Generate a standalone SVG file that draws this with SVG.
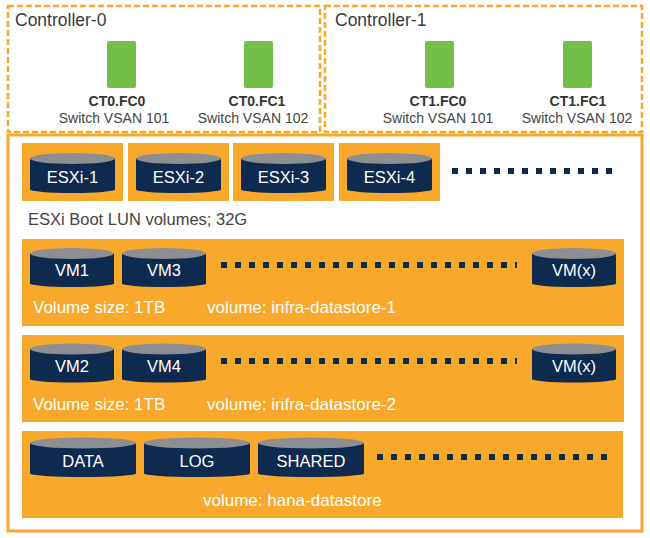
<svg xmlns="http://www.w3.org/2000/svg" width="650" height="538" viewBox="0 0 650 538">
<style>
text{font-family:"Liberation Sans",Arial,sans-serif}
.ctrl{fill:none;stroke:#F7A82B;stroke-width:2.5;stroke-dasharray:6 3}
.title{font-size:17.5px;fill:#3a3a3a}
.port{fill:#74BE4A}
.pname{font-size:14px;font-weight:bold;fill:#333;text-anchor:middle}
.psub{font-size:14px;fill:#444;text-anchor:middle}
.band{fill:#F8A82B}
.body{fill:#0E2A4E}
.top{fill:#8C8E91}
.ct{font-size:16.5px;fill:#fff;text-anchor:middle}
.wl{font-size:17px;fill:#fff}
.gl{font-size:16.5px;fill:#444}
.dots{stroke:#0E2A4E;stroke-width:6;stroke-dasharray:6 8;fill:none}
</style>
<rect width="650" height="538" fill="#fff"/>
<g id="storage">
<rect x="8" y="135" width="634" height="396" fill="#fff" stroke="#F8A82B" stroke-width="3"/>
</g>
<g id="controller-0">
<rect class="ctrl" x="8" y="6" width="312" height="126"/>
<text class="title" x="15" y="26">Controller-0</text>
</g>
<g id="controller-1">
<rect class="ctrl" x="325" y="6" width="317" height="126"/>
<text class="title" x="335" y="26">Controller-1</text>
</g>
<g id="ct0-fc0">
<rect class="port" x="107" y="41" width="29" height="47" rx="2"/>
<text class="pname" x="117" y="106">CT0.FC0</text>
<text class="psub" x="114" y="123">Switch VSAN 101</text>
</g>
<g id="ct0-fc1">
<rect class="port" x="244" y="41" width="29" height="47" rx="2"/>
<text class="pname" x="257" y="106">CT0.FC1</text>
<text class="psub" x="253" y="123">Switch VSAN 102</text>
</g>
<g id="ct1-fc0">
<rect class="port" x="425" y="41" width="29" height="47" rx="2"/>
<text class="pname" x="438" y="106">CT1.FC0</text>
<text class="psub" x="438" y="123">Switch VSAN 101</text>
</g>
<g id="ct1-fc1">
<rect class="port" x="563" y="41" width="29" height="47" rx="2"/>
<text class="pname" x="578" y="106">CT1.FC1</text>
<text class="psub" x="577" y="123">Switch VSAN 102</text>
</g>
<g id="esxi-1">
<rect class="band" x="22" y="143" width="101" height="58"/>
<path class="body" d="M30,158.5 L30,189.5 A42.5,3.5 0 0 0 115,189.5 L115,158.5 Z"/>
<ellipse class="top" cx="72.5" cy="158.5" rx="42.5" ry="5.5"/>
<text class="ct" x="72.5" y="183">ESXi-1</text>
</g>
<g id="esxi-2">
<rect class="band" x="128" y="143" width="101" height="58"/>
<path class="body" d="M136,158.5 L136,189.5 A42.5,3.5 0 0 0 221,189.5 L221,158.5 Z"/>
<ellipse class="top" cx="178.5" cy="158.5" rx="42.5" ry="5.5"/>
<text class="ct" x="178.5" y="183">ESXi-2</text>
</g>
<g id="esxi-3">
<rect class="band" x="233" y="143" width="101" height="58"/>
<path class="body" d="M241,158.5 L241,189.5 A42.5,3.5 0 0 0 326,189.5 L326,158.5 Z"/>
<ellipse class="top" cx="283.5" cy="158.5" rx="42.5" ry="5.5"/>
<text class="ct" x="283.5" y="183">ESXi-3</text>
</g>
<g id="esxi-4">
<rect class="band" x="339" y="143" width="101" height="58"/>
<path class="body" d="M347,158.5 L347,189.5 A42.5,3.5 0 0 0 432,189.5 L432,158.5 Z"/>
<ellipse class="top" cx="389.5" cy="158.5" rx="42.5" ry="5.5"/>
<text class="ct" x="389.5" y="183">ESXi-4</text>
</g>
<text class="gl" x="28" y="225">ESXi Boot LUN volumes; 32G</text>
<g id="infra-datastore-1">
<rect class="band" x="22" y="239" width="602" height="87"/>
<path class="body" d="M30,253.5 L30,283.5 A42,3.5 0 0 0 114,283.5 L114,253.5 Z"/>
<ellipse class="top" cx="72" cy="253.5" rx="42" ry="5.5"/>
<text class="ct" x="72" y="276">VM1</text>
<path class="body" d="M122,253.5 L122,283.5 A42,3.5 0 0 0 206,283.5 L206,253.5 Z"/>
<ellipse class="top" cx="164" cy="253.5" rx="42" ry="5.5"/>
<text class="ct" x="164" y="276">VM3</text>
<path class="body" d="M532,253.5 L532,283.5 A42,3.5 0 0 0 616,283.5 L616,253.5 Z"/>
<ellipse class="top" cx="574" cy="253.5" rx="42" ry="5.5"/>
<text class="ct" x="574" y="276">VM(x)</text>
<text class="wl" x="33" y="313">Volume size: 1TB</text>
<text class="wl" x="207" y="313">volume: infra-datastore-1</text>
</g>
<g id="infra-datastore-2">
<rect class="band" x="22" y="335" width="602" height="87"/>
<path class="body" d="M30,349 L30,379 A42,3.5 0 0 0 114,379 L114,349 Z"/>
<ellipse class="top" cx="72" cy="349" rx="42" ry="5.5"/>
<text class="ct" x="72" y="372">VM2</text>
<path class="body" d="M122,349 L122,379 A42,3.5 0 0 0 206,379 L206,349 Z"/>
<ellipse class="top" cx="164" cy="349" rx="42" ry="5.5"/>
<text class="ct" x="164" y="372">VM4</text>
<path class="body" d="M532,349 L532,379 A42,3.5 0 0 0 616,379 L616,349 Z"/>
<ellipse class="top" cx="574" cy="349" rx="42" ry="5.5"/>
<text class="ct" x="574" y="372">VM(x)</text>
<text class="wl" x="33" y="410">Volume size: 1TB</text>
<text class="wl" x="207" y="410">volume: infra-datastore-2</text>
</g>
<g id="hana-datastore">
<rect class="band" x="22" y="431" width="601" height="87"/>
<path class="body" d="M30,443 L30,473.5 A53,3.5 0 0 0 136,473.5 L136,443 Z"/>
<ellipse class="top" cx="83" cy="443" rx="53" ry="5.5"/>
<text class="ct" x="83" y="467">DATA</text>
<path class="body" d="M144,443 L144,473.5 A53,3.5 0 0 0 250,473.5 L250,443 Z"/>
<ellipse class="top" cx="197" cy="443" rx="53" ry="5.5"/>
<text class="ct" x="197" y="467">LOG</text>
<path class="body" d="M258,443 L258,473.5 A53,3.5 0 0 0 364,473.5 L364,443 Z"/>
<ellipse class="top" cx="311" cy="443" rx="53" ry="5.5"/>
<text class="ct" x="311" y="467">SHARED</text>
<text class="wl" x="203" y="506">volume: hana-datastore</text>
</g>
<g id="connectors">
<line class="dots" x1="452" y1="171" x2="612" y2="171"/>
<line class="dots" x1="221" y1="265" x2="517" y2="265"/>
<line class="dots" x1="221" y1="361" x2="517" y2="361"/>
<line class="dots" x1="377" y1="457" x2="607" y2="457"/>
</g>
</svg>
